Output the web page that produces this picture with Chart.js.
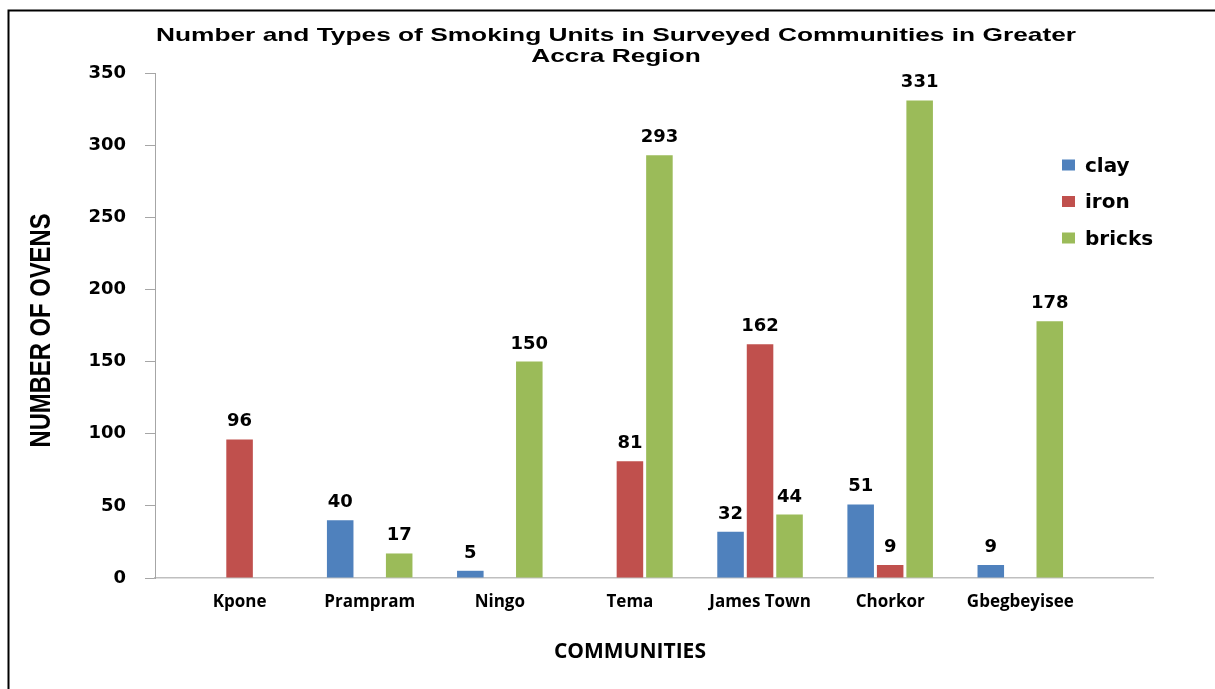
<!DOCTYPE html>
<html><head><meta charset="utf-8">
<script src="https://cdn.jsdelivr.net/npm/chart.js@4.4.1/dist/chart.umd.min.js"></script>
<style>html,body{margin:0;padding:0;background:#fff;overflow:hidden}#wrap{width:1215px;height:689px;position:relative}canvas{display:block}</style>
</head><body><div id="wrap"><canvas id="c" width="1215" height="689"></canvas></div>
<script>
const categories = ['Kpone','Prampram','Ningo','Tema','James Town','Chorkor','Gbegbeyisee'];
const clay   = [0, 40, 5, 0, 32, 51, 9];
const iron   = [96, 0, 0, 81, 162, 9, 0];
const bricks = [0, 17, 150, 293, 44, 331, 178];
const seriesNames  = ['clay', 'iron', 'bricks'];
const seriesColors = ['#4F81BD', '#C0504D', '#9BBB59'];
const yTicks = [0, 50, 100, 150, 200, 250, 300, 350];
const titleLines = ['Number and Types of Smoking Units in Surveyed Communities in Greater', 'Accra Region'];
const xTitle = 'COMMUNITIES';
const yTitle = 'NUMBER OF OVENS';

const seriesValues = [clay, iron, bricks];
const BOLD = "'DejaVu Sans', sans-serif";
const OPEN = "'Open Sans', 'DejaVu Sans', sans-serif";

const decor = {
  id: 'decor',
  beforeDraw(chart) {
    const ctx = chart.ctx;
    ctx.save();
    ctx.fillStyle = '#fff';
    ctx.fillRect(0, 0, chart.width, chart.height);
    ctx.strokeStyle = '#000';
    ctx.lineWidth = 2;
    ctx.beginPath();
    ctx.moveTo(8.5, 700); ctx.lineTo(8.5, 10.5); ctx.lineTo(1230, 10.5);
    ctx.stroke();
    ctx.restore();
  },
  afterDatasetsDraw(chart) {
    const ctx = chart.ctx;
    ctx.save();
    ctx.font = "bold 18px " + BOLD;
    ctx.fillStyle = '#000';
    ctx.textAlign = 'center';
    ctx.textBaseline = 'alphabetic';
    chart.data.datasets.forEach((ds, di) => {
      const meta = chart.getDatasetMeta(di);
      meta.data.forEach((el, i) => {
        const v = seriesValues[di][i];
        if (!v) return;
        ctx.fillText(String(v), el.x, el.y - 13);
      });
    });
    ctx.restore();
  },
  afterDraw(chart) {
    const ctx = chart.ctx;
    ctx.save();
    // main title
    ctx.fillStyle = '#000';
    ctx.font = "bold 19px 'Liberation Sans', Arial, sans-serif";
    ctx.textAlign = 'center';
    ctx.textBaseline = 'alphabetic';
    const w = ctx.measureText(titleLines[0]).width;
    const sx = 920 / w;
    const baselines = [41, 62];
    titleLines.forEach((t, i) => {
      ctx.save();
      ctx.translate(616, baselines[i]);
      ctx.scale(sx, 1);
      ctx.fillText(t, 0, 0);
      ctx.restore();
    });
    // y axis title (narrow bold)
    const ys = chart.scales.y;
    ctx.font = "bold 30px 'Liberation Sans', Arial, sans-serif";
    const yw = ctx.measureText(yTitle).width;
    ctx.save();
    ctx.translate(50, (ys.top + ys.bottom) / 2 + 5);
    ctx.rotate(-Math.PI / 2);
    ctx.scale(234 / yw, 1);
    ctx.textBaseline = 'alphabetic';
    ctx.fillText(yTitle, 0, 0);
    ctx.restore();
    // x axis title
    const xs = chart.scales.x;
    const cx = (xs.getPixelForValue(0) + xs.getPixelForValue(categories.length - 1)) / 2;
    ctx.font = "bold 21px " + OPEN;
    ctx.fillText(xTitle, cx, 658);
    // legend
    ctx.textAlign = 'left';
    ctx.font = "bold 20px " + BOLD;
    const legBase = [171.5, 208, 244.5];
    seriesNames.forEach((n, i) => {
      ctx.fillStyle = seriesColors[i];
      ctx.fillRect(1062, legBase[i] - 12, 13, 11);
      ctx.fillStyle = '#000';
      ctx.fillText(n, 1085, legBase[i]);
    });
    ctx.restore();
  }
};

new Chart(document.getElementById('c'), {
  type: 'bar',
  data: {
    datasets: seriesNames.map((n, di) => ({
      label: n,
      data: seriesValues[di].map((v, i) => ({ x: i, y: v })),
      backgroundColor: seriesColors[di],
      borderWidth: 0,
      categoryPercentage: 0.68,
      barPercentage: 0.9
    }))
  },
  options: {
    responsive: false,
    animation: false,
    devicePixelRatio: 1,
    layout: { padding: { top: 73, right: 62, bottom: 0, left: 0 } },
    plugins: { legend: { display: false }, title: { display: false }, tooltip: { enabled: false } },
    scales: {
      x: {
        type: 'linear',
        min: -0.65,
        max: 7.02,
        offset: false,
        grid: { display: false, drawTicks: false },
        border: { display: true, color: '#BFBFBF', width: 1.5 },
        afterBuildTicks: (s) => { s.ticks = categories.map((c, i) => ({ value: i })); },
        afterFit: (s) => { s.height = 111; },
        ticks: {
          autoSkip: false, maxRotation: 0, minRotation: 0,
          padding: 14,
          color: '#000',
          font: { family: OPEN, weight: 'bold', size: 17 },
          callback: (v) => categories[v] !== undefined ? categories[v] : ''
        }
      },
      y: {
        min: 0,
        max: 350,
        grid: { display: true, drawOnChartArea: false, drawTicks: true, tickLength: 10, color: '#A6A6A6' },
        border: { display: true, color: '#A6A6A6', width: 1 },
        afterBuildTicks: (s) => { s.ticks = yTicks.map(v => ({ value: v })); },
        afterFit: (s) => { s.width = 155; },
        ticks: {
          padding: 19,
          color: '#000',
          font: { family: BOLD, weight: 'bold', size: 18 }
        },
        title: { display: false }
      }
    }
  },
  plugins: [decor]
});
</script>
</body></html>
